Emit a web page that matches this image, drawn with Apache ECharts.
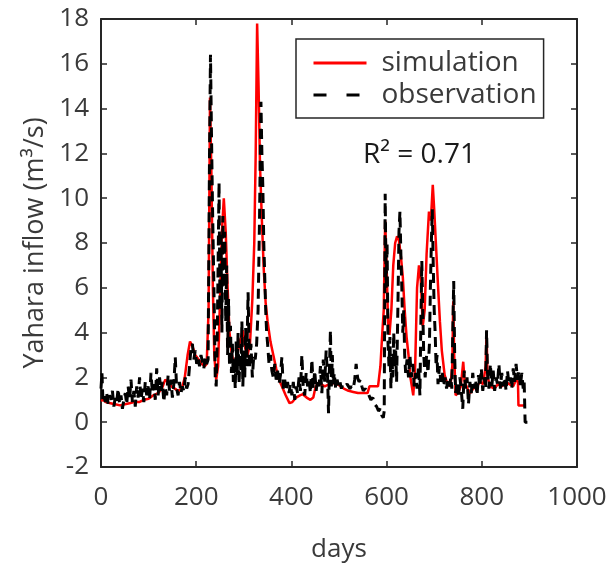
<!DOCTYPE html>
<html><head><meta charset="utf-8">
<script src="https://cdn.jsdelivr.net/npm/echarts@6/dist/echarts.min.js"></script>
<style>html,body{margin:0;padding:0;background:#fff}#c{width:614px;height:568px}</style>
</head><body><div id="c"></div>
<script>
const seriesNames = ['simulation', 'observation'];
const xTicks = [0, 200, 400, 600, 800, 1000];
const yTicks = [-2, 0, 2, 4, 6, 8, 10, 12, 14, 16, 18];
const r2Label = 'R² = 0.71';

const simDays = [0,5,10,20,30,40,50,60,70,80,90,100,110,120,128,135,140,148,155,162,170,176,182,187,192,198,205,212,218,222,226,229,232,235,238,242,246,250,254,258,262,266,270,275,280,286,292,298,303,308,313,318,322,325,328,331,334,338,342,346,350,356,362,368,374,380,388,396,402,410,418,424,432,440,446,450,455,462,470,480,490,500,510,520,530,540,550,560,564,572,582,587,591,594,597,600,603,606,610,614,618,622,626,630,634,638,642,646,650,656,660,664,668,672,676,680,684,689,693,697,700,704,708,712,716,722,728,734,738,740,742,745,750,756,761,764,770,776,782,790,796,803,808,810,812,818,826,834,842,850,858,866,872,876,877,891];
const simValues = [0.95,1.0,0.9,0.85,0.8,0.75,0.8,0.85,0.9,0.9,1.0,1.05,1.2,1.3,1.5,1.9,1.8,1.6,1.5,1.4,1.5,2.0,3.0,3.6,3.4,3.0,2.8,2.6,2.5,2.6,5.0,14.5,11.0,6.0,3.0,1.9,2.5,5.5,8.5,10.0,8.5,6.0,4.0,3.0,2.6,3.0,3.6,4.1,3.3,3.0,3.5,5.5,8.0,12.0,17.8,15.0,11.5,9.0,6.8,5.3,4.5,3.6,3.0,2.4,1.9,1.6,1.2,0.85,0.9,1.1,1.2,1.25,1.1,1.0,1.1,1.5,1.75,1.7,1.6,1.7,1.75,1.65,1.5,1.4,1.35,1.3,1.3,1.3,1.6,1.6,1.6,2.5,4.0,5.0,9.0,7.0,4.5,3.9,5.0,7.0,8.0,8.3,8.1,7.4,6.5,5.0,3.8,3.0,2.0,1.2,2.5,6.0,7.0,6.3,4.3,5.0,7.5,9.4,9.0,10.6,9.5,7.8,6.1,4.5,3.2,2.1,1.7,1.6,2.5,5.4,3.0,1.2,1.3,1.6,2.7,1.8,1.5,1.3,1.5,1.6,1.8,1.7,2.5,4.0,2.0,1.6,1.5,1.7,1.6,1.8,1.7,1.6,1.9,1.8,0.75,0.75];

const obsDays = [0,2,4,6,9,12,15,18,21,24,27,30,33,36,39,42,45,48,51,54,57,60,63,66,69,72,75,78,81,84,87,90,93,96,99,102,105,108,111,114,117,120,123,126,129,132,135,138,141,144,147,150,153,156,159,162,165,168,171,174,177,180,183,186,189,192,195,198,201,204,207,210,213,216,219,222,225,228,230,232,234,236,238,240,242,244,246,248,250,252,254,256,258,260,262,264,266,268,270,272,274,276,278,280,282,284,286,288,290,292,294,296,298,300,302,304,306,309,312,315,318,321,324,327,330,333,336,338,340,342,344,346,348,350,353,356,359,362,365,368,371,374,377,380,383,386,389,392,395,398,401,404,407,410,413,416,419,422,425,428,431,434,437,440,443,446,449,452,455,458,461,464,467,470,473,476,478,480,482,484,486,488,490,493,496,499,502,505,508,511,514,517,520,523,526,530,533,536,539,542,545,548,551,555,559,563,567,571,575,579,583,587,590,593,595,597,599,601,603,605,607,609,611,613,615,617,619,621,624,626,628,630,632,634,636,638,640,643,646,649,652,655,658,661,664,667,670,672,674,676,678,681,684,687,690,692,694,696,698,700,702,704,706,708,711,714,717,720,723,726,729,732,735,737,739,741,743,745,748,751,754,757,760,763,766,769,772,775,778,781,784,787,790,793,796,799,802,805,808,810,812,815,818,821,824,827,830,833,836,839,842,845,848,851,854,857,860,863,866,869,872,875,878,881,884,887,889,891,900];
const obsValues = [1.5,2.2,1.0,1.2,0.9,1.3,0.8,1.2,1.0,1.4,0.7,1.1,0.9,1.5,0.8,1.2,0.6,1.0,1.3,0.8,1.6,1.0,1.9,0.9,1.4,0.7,1.6,1.1,2.0,1.0,1.5,0.9,1.8,1.2,1.6,1.0,2.2,1.3,1.7,1.0,2.4,1.2,2.0,1.4,1.8,0.9,1.6,1.2,2.1,1.4,1.9,1.1,1.7,2.9,1.5,1.2,1.8,1.3,1.6,1.4,2.0,1.5,1.7,2.5,3.3,3.5,2.8,3.2,2.6,2.9,2.5,3.0,2.7,2.4,2.9,2.6,2.8,12.0,16.4,13.0,10.0,7.5,5.0,2.0,1.6,3.5,7.0,10.7,5.0,8.5,4.0,9.2,6.0,8.5,4.5,7.0,3.0,5.5,2.5,4.3,2.2,3.5,1.8,2.8,1.5,3.6,2.0,4.0,1.7,3.0,2.2,4.5,1.6,3.2,2.0,4.2,2.5,5.8,2.4,3.5,2.0,3.0,2.8,3.5,5.0,9.0,14.3,12.0,10.5,8.0,6.5,5.0,4.0,3.5,2.6,3.0,2.3,2.0,2.6,1.9,2.3,1.7,2.1,2.9,1.5,1.9,1.4,1.8,1.3,1.7,1.2,1.8,1.0,1.6,1.3,2.0,1.4,3.0,1.5,1.2,2.2,1.6,1.9,1.3,2.8,1.5,2.3,1.4,1.9,1.6,2.5,1.3,2.8,1.8,3.2,2.0,0.4,2.5,4.1,1.6,3.0,1.7,2.2,1.5,1.9,1.6,1.8,1.5,1.7,1.6,1.6,1.7,1.6,1.5,1.6,1.5,1.9,2.6,2.0,1.8,1.9,1.6,1.4,1.5,1.4,1.2,1.0,1.1,0.8,0.7,0.5,0.6,0.3,0.2,0.5,10.2,6.0,8.0,3.5,2.5,3.8,1.5,3.0,2.0,4.0,2.5,3.2,1.8,5.5,8.5,9.4,7.5,6.0,4.0,5.0,3.0,2.2,2.8,2.0,3.0,2.0,2.6,1.6,2.2,1.5,2.5,1.2,4.5,7.2,5.0,3.0,2.0,3.0,2.2,3.5,6.0,8.0,9.5,7.0,5.0,4.0,2.5,3.0,1.7,2.5,1.8,2.2,1.6,2.0,1.5,1.9,1.6,2.0,1.5,4.0,6.3,3.0,1.3,1.8,1.1,2.0,1.4,0.6,2.3,1.5,2.0,0.8,1.8,1.3,2.2,1.5,1.9,1.2,2.1,1.6,2.4,1.4,2.0,1.5,4.1,2.2,1.5,2.6,1.6,2.3,1.4,2.0,1.7,2.6,1.5,2.2,1.6,2.0,1.4,2.3,1.7,2.0,1.5,2.4,1.8,2.6,1.9,2.3,1.6,2.2,1.5,1.8,0.0,0.0];

const zip = (a, b) => a.map((d, i) => [d, b[i]]);
const FONT = 'Open Sans';
const AX = '#262626';
const TXT = '#3a3a3a';

const chart = echarts.init(document.getElementById('c'), null, {renderer: 'canvas'});
const baseX = {
  type: 'value', min: xTicks[0], max: xTicks[xTicks.length - 1], interval: 200,
  axisLine: {show: true, onZero: false, lineStyle: {color: AX, width: 2}},
  axisTick: {show: true, inside: true, length: 6, lineStyle: {color: AX, width: 1.5}},
  splitLine: {show: false}
};
const baseY = {
  type: 'value', min: yTicks[0], max: yTicks[yTicks.length - 1], interval: 2,
  axisLine: {show: true, onZero: false, lineStyle: {color: AX, width: 2}},
  axisTick: {show: true, inside: true, length: 6, lineStyle: {color: AX, width: 1.5}},
  splitLine: {show: false}
};
chart.setOption({
  animation: false,
  backgroundColor: '#fff',
  grid: {left: 101, right: 37, top: 19, bottom: 99, containLabel: false},
  xAxis: [
    Object.assign({}, baseX, {
      position: 'bottom',
      name: 'days', nameLocation: 'middle', nameGap: 70,
      nameTextStyle: {fontFamily: FONT, fontSize: 26, color: TXT},
      axisLabel: {show: true, margin: 18, fontFamily: FONT, fontSize: 26, color: TXT,
        formatter: v => String(v)}
    }),
    Object.assign({}, baseX, {position: 'top', axisLabel: {show: false}})
  ],
  yAxis: [
    Object.assign({}, baseY, {
      position: 'left',
      name: 'Yahara inflow (m³/s)', nameLocation: 'middle', nameGap: 52, nameRotate: 90,
      nameTextStyle: {fontFamily: FONT, fontSize: 27, color: TXT},
      axisLabel: {show: true, margin: 12, fontFamily: FONT, fontSize: 26, color: TXT,
        formatter: v => String(v)}
    }),
    Object.assign({}, baseY, {position: 'right', axisLabel: {show: false}})
  ],
  legend: {
    orient: 'vertical', left: 296, top: 39,
    padding: [10, 7, 9, 16], itemGap: 4, itemWidth: 53, itemHeight: 14,
    borderColor: AX, borderWidth: 1.5, backgroundColor: '#fff',
    itemStyle: {opacity: 0},
    textStyle: {fontFamily: FONT, fontSize: 28, color: TXT, padding: [0, 0, 0, 10]},
    data: [
      {name: seriesNames[0], lineStyle: {width: 3, color: '#ff0000'}},
      {name: seriesNames[1], lineStyle: {type: [13, 20], width: 3, color: '#000'}}
    ]
  },
  title: {
    text: r2Label, left: 358, top: 136,
    textStyle: {fontFamily: FONT, fontSize: 28, fontWeight: 'normal', color: '#1a1a1a'}
  },
  series: [
    {
      name: seriesNames[0], type: 'line', data: zip(simDays, simValues),
      showSymbol: false, symbol: 'none', z: 2,
      lineStyle: {color: '#ff0000', width: 2.5}, itemStyle: {color: '#ff0000'}
    },
    {
      name: seriesNames[1], type: 'line', data: zip(obsDays, obsValues),
      showSymbol: false, symbol: 'none', z: 3,
      lineStyle: {color: '#000000', width: 3, type: [10, 6]}, itemStyle: {color: '#000000'}
    }
  ]
});
</script></body></html>
